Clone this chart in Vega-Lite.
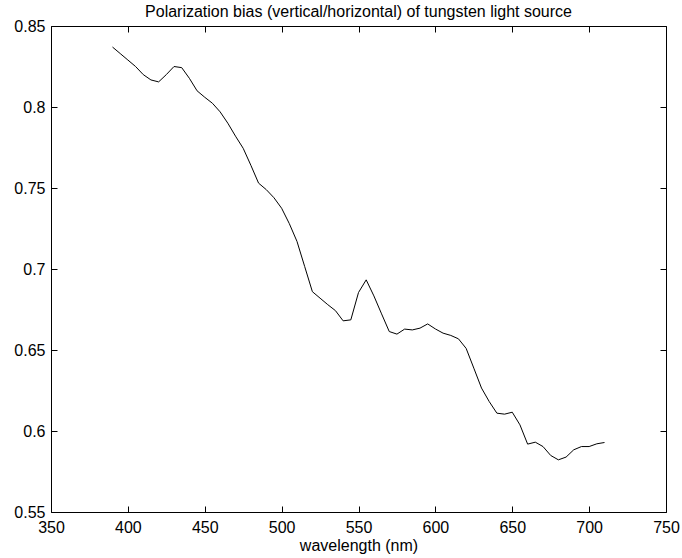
{
  "$schema": "https://vega.github.io/schema/vega-lite/v6.json",
  "width": 615,
  "height": 486,
  "autosize": {"type": "none"},
  "padding": {"left": 51, "top": 26, "right": 16, "bottom": 46},
  "background": "white",
  "title": {
    "text": "Polarization bias (vertical/horizontal) of tungsten light source",
    "font": "Liberation Sans",
    "fontSize": 16,
    "fontWeight": "normal",
    "color": "black",
    "anchor": "middle",
    "offset": 6,
    "dy": 8
  },
  "config": {
    "view": {"stroke": "black", "strokeWidth": 1},
    "axis": {
      "grid": false,
      "domain": false,
      "offset": -6,
      "labelFont": "Liberation Sans",
      "labelFontSize": 16,
      "labelColor": "black",
      "titleFont": "Liberation Sans",
      "titleFontSize": 16,
      "titleFontWeight": "normal",
      "titleColor": "black",
      "tickColor": "black",
      "tickSize": 6,
      "tickWidth": 1
    }
  },
  "data": {
    "values": [
      {"wl": 390, "bias": 0.837}, {"wl": 395, "bias": 0.833}, {"wl": 400, "bias": 0.829},
      {"wl": 405, "bias": 0.825}, {"wl": 410, "bias": 0.820}, {"wl": 415, "bias": 0.8167},
      {"wl": 420, "bias": 0.8155}, {"wl": 425, "bias": 0.820}, {"wl": 430, "bias": 0.825},
      {"wl": 435, "bias": 0.8243}, {"wl": 440, "bias": 0.8177}, {"wl": 445, "bias": 0.810},
      {"wl": 450, "bias": 0.806}, {"wl": 455, "bias": 0.8023}, {"wl": 460, "bias": 0.797},
      {"wl": 465, "bias": 0.790}, {"wl": 470, "bias": 0.782}, {"wl": 475, "bias": 0.7745},
      {"wl": 480, "bias": 0.764}, {"wl": 485, "bias": 0.753}, {"wl": 490, "bias": 0.749},
      {"wl": 495, "bias": 0.744}, {"wl": 500, "bias": 0.7375}, {"wl": 505, "bias": 0.728},
      {"wl": 510, "bias": 0.717}, {"wl": 515, "bias": 0.7015}, {"wl": 520, "bias": 0.686},
      {"wl": 525, "bias": 0.682}, {"wl": 530, "bias": 0.678}, {"wl": 535, "bias": 0.6743},
      {"wl": 540, "bias": 0.668}, {"wl": 545, "bias": 0.6686}, {"wl": 550, "bias": 0.6855},
      {"wl": 555, "bias": 0.6933}, {"wl": 560, "bias": 0.6834}, {"wl": 565, "bias": 0.6723},
      {"wl": 570, "bias": 0.6614}, {"wl": 575, "bias": 0.6598}, {"wl": 580, "bias": 0.6629},
      {"wl": 585, "bias": 0.6624}, {"wl": 590, "bias": 0.6635}, {"wl": 595, "bias": 0.6661},
      {"wl": 600, "bias": 0.663}, {"wl": 605, "bias": 0.6604}, {"wl": 610, "bias": 0.659},
      {"wl": 615, "bias": 0.6569}, {"wl": 620, "bias": 0.651}, {"wl": 625, "bias": 0.6388},
      {"wl": 630, "bias": 0.6265}, {"wl": 635, "bias": 0.6182}, {"wl": 640, "bias": 0.611},
      {"wl": 645, "bias": 0.6104}, {"wl": 650, "bias": 0.6116}, {"wl": 655, "bias": 0.6038},
      {"wl": 660, "bias": 0.5919}, {"wl": 665, "bias": 0.5931}, {"wl": 670, "bias": 0.5904},
      {"wl": 675, "bias": 0.5849}, {"wl": 680, "bias": 0.5822}, {"wl": 685, "bias": 0.5839},
      {"wl": 690, "bias": 0.5884}, {"wl": 695, "bias": 0.5904}, {"wl": 700, "bias": 0.5904},
      {"wl": 705, "bias": 0.5921}, {"wl": 710, "bias": 0.5929}
    ]
  },
  "resolve": {"axis": {"x": "independent", "y": "independent"}},
  "layer": [
    {
      "mark": {"type": "line", "color": "black", "strokeWidth": 1},
      "encoding": {
        "x": {
          "field": "wl", "type": "quantitative",
          "scale": {"domain": [350, 750], "nice": false, "zero": false},
          "axis": {"title": "wavelength (nm)", "values": [350, 400, 450, 500, 550, 600, 650, 700, 750], "titlePadding": 2, "labelPadding": 7, "labelFlush": false, "labelOverlap": false}
        },
        "y": {
          "field": "bias", "type": "quantitative",
          "scale": {"domain": [0.55, 0.85], "nice": false, "zero": false},
          "axis": {"title": null, "values": [0.55, 0.6, 0.65, 0.7, 0.75, 0.8, 0.85], "format": ".2~f", "labelFlush": false, "labelOverlap": false, "labelPadding": 6}
        }
      }
    },
    {
      "mark": {"type": "line", "opacity": 0},
      "encoding": {
        "x": {
          "field": "wl", "type": "quantitative",
          "axis": {"orient": "top", "title": null, "labels": false, "values": [350, 400, 450, 500, 550, 600, 650, 700, 750]}
        },
        "y": {
          "field": "bias", "type": "quantitative",
          "axis": {"orient": "right", "title": null, "labels": false, "values": [0.55, 0.6, 0.65, 0.7, 0.75, 0.8, 0.85]}
        }
      }
    }
  ]
}
